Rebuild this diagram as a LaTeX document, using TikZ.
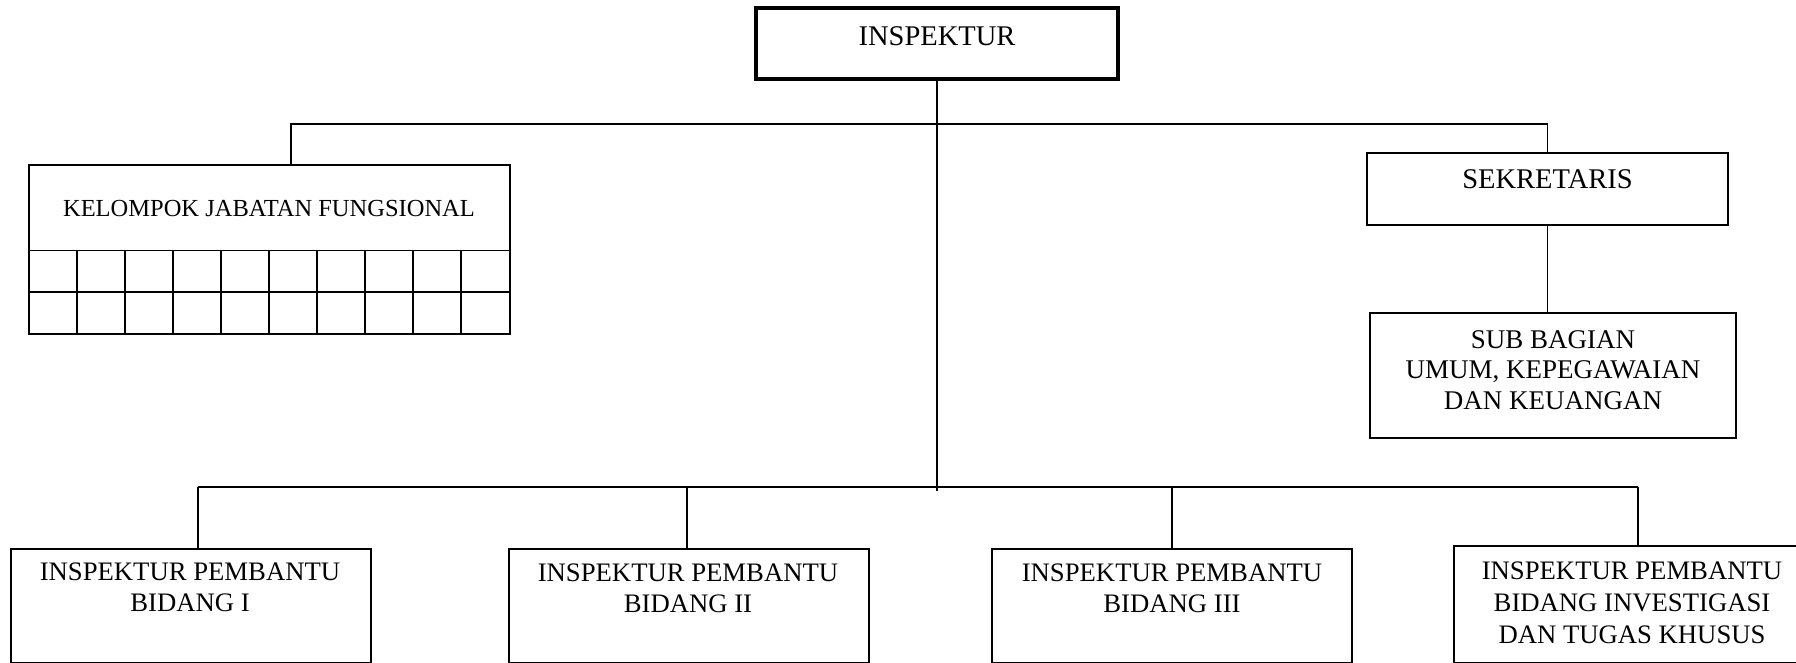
\documentclass[tikz,border=0pt]{standalone}
\usepackage{fontspec}
\setmainfont{Liberation Serif}
\usetikzlibrary{calc,positioning}

\tikzset{
	unit/.style={draw, rectangle, line width=1.8pt, inner sep=0pt, outer sep=0pt},
	lbl/.style={inner sep=0pt, align=center, anchor=north},
	link/.style={line width=1.8pt},
}

\begin{document}
\begin{tikzpicture}[x=1pt,y=-1pt]
	
	\clip (0,0) rectangle (1796,663);
	
	% boxes
	\node[unit, line width=3.5pt, minimum width=362pt, minimum height=71pt] (insp) at (937,43.5) {};
	\node[unit, minimum width=481pt, minimum height=168.4pt] (kjf) at (269.1,249.4) {};
	\node[unit, minimum width=361pt, minimum height=72pt] (sek) at (1547.5,189) {};
	\node[unit, minimum width=366pt, minimum height=125pt] (sub) at (1553,375.5) {};
	\node[unit, minimum width=360pt, minimum height=114pt] (ipb1) at (191,606) {};
	\node[unit, minimum width=360pt, minimum height=114pt] (ipb2) at (689,606) {};
	\node[unit, minimum width=360pt, minimum height=114pt] (ipb3) at (1172,606) {};
	\node[unit, minimum width=356pt, minimum height=117pt] (ipb4) at (1632,604.5) {};
	
	% texts
	\node[lbl, font=\fontsize{28.5}{30}\selectfont] (insp-t) at (937,26) {INSPEKTUR};
	\node[lbl, font=\fontsize{24.5}{28}\selectfont] (kjf-t) at (269,200) {KELOMPOK JABATAN FUNGSIONAL};
	\node[lbl, font=\fontsize{28.5}{30}\selectfont] (sek-t) at (1547.5,169) {SEKRETARIS};
	\node[lbl, font=\fontsize{27}{30.5}\selectfont] (sub-t) at (1553,330) {SUB BAGIAN\\UMUM, KEPEGAWAIAN\\DAN KEUANGAN};
	\node[lbl, font=\fontsize{26.7}{31}\selectfont] (ipb1-t) at (190,563) {INSPEKTUR PEMBANTU\\BIDANG I};
	\node[lbl, font=\fontsize{26.7}{31}\selectfont] (ipb2-t) at (688,564) {INSPEKTUR PEMBANTU\\BIDANG II};
	\node[lbl, font=\fontsize{26.7}{31}\selectfont] (ipb3-t) at (1172,563.5) {INSPEKTUR PEMBANTU\\BIDANG III};
	\node[lbl, font=\fontsize{26.7}{32}\selectfont] (ipb4-t) at (1632,562) {INSPEKTUR PEMBANTU\\BIDANG INVESTIGASI\\DAN TUGAS KHUSUS};
	
	% grid of the functional group
	\draw[link] ($(kjf.north west)+(0,85.2)$) -- ($(kjf.north east)+(0,85.2)$);
	\draw[link] ($(kjf.north west)+(0,126.8)$) -- ($(kjf.north east)+(0,126.8)$);
	\foreach \i in {1,...,9}
		\draw[link] ($(kjf.north west)+(\i*48.08,85.2)$) -- ($(kjf.south west)+(\i*48.08,0)$);
	
	% connectors
	\coordinate (bar-l) at (291,124);
	\coordinate (trunk) at (937,491);
	\coordinate (d1) at (198,487);
	\coordinate (d2) at (687,487);
	\coordinate (d3) at (1172,487);
	\coordinate (d4) at (1638,487);
	
	\draw[link] (insp.south) -- (trunk);
	\draw[link] (kjf.north -| bar-l) -- (bar-l) -| (sek.north);
	\draw[link] (sek.south) -- (sek.south |- sub.north);
	\draw[link] (d1) -- (d4);
	\draw[link] (d1) -- (d1 |- ipb1.north);
	\draw[link] (d2) -- (d2 |- ipb2.north);
	\draw[link] (d3) -- (d3 |- ipb3.north);
	\draw[link] (d4) -- (d4 |- ipb4.north);
	
\end{tikzpicture}
\end{document}
